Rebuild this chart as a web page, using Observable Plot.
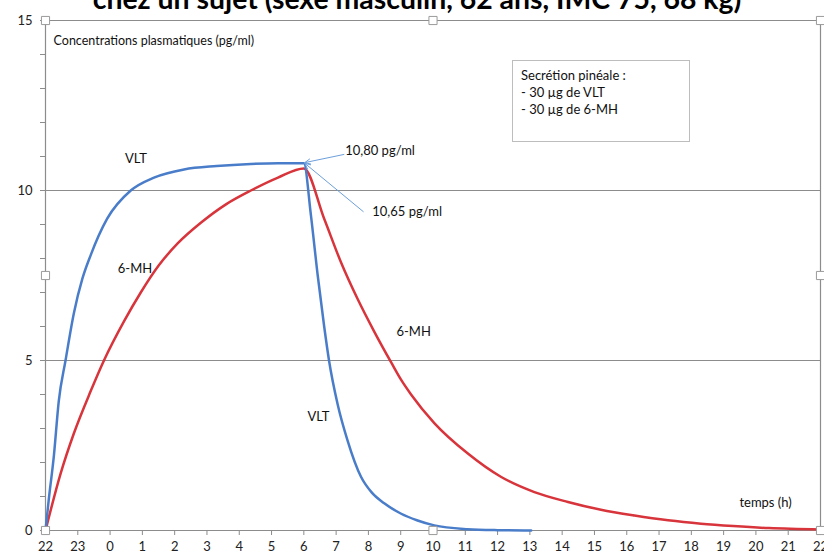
<!DOCTYPE html>
<html>
<head>
<meta charset="utf-8">
<script src="https://cdn.jsdelivr.net/npm/d3@7"></script>
<script src="https://cdn.jsdelivr.net/npm/@observablehq/plot@0.6"></script>
<style>
  html, body { margin: 0; padding: 0; background: #fff; }
  #wrap { position: relative; width: 824px; height: 553px; overflow: hidden; font-family: Lato, "Open Sans", sans-serif; }
  #title { position: absolute; left: 0; width: 834px; top: -16.5px; text-align: center; font-weight: 700; font-size: 28.4px; line-height: 28.4px; color: #000; white-space: nowrap; z-index: 2; }
  #legend { position: absolute; left: 512px; top: 60px; width: 168px; height: 74px; border: 1px solid #bdbdbd; padding: 6px 0 0 8px; font-size: 13px; line-height: 17px; color: #111; background: #fff; z-index: 2; }
  #chart { position: absolute; left: 0; top: 0; }
</style>
</head>
<body>
<div id="wrap">
  <div id="title">chez un sujet (sexe masculin, 62 ans, IMC 75, 68 kg)</div>
  <div id="chart"></div>
  <div id="legend">Secrétion pinéale :<br>- 30 µg de VLT<br>- 30 µg de 6-MH</div>
</div>
<script>
// Hours elapsed since 22 h (0..24) and tick labels (clock hours)
const hourTicks = d3.range(0, 25);
const hourLabels = ["22","23","0","1","2","3","4","5","6","7","8","9","10","11","12","13","14","15","16","17","18","19","20","21","22"];
const yTicks = [0, 5, 10, 15];
const yMinorTicks = d3.range(0, 16);

// VLT plasma concentration (pg/ml)
const vltT = [0, 0.1, 0.26, 0.41, 0.62, 0.88, 1.14, 1.4, 1.91, 2.64, 3.36, 4.29, 5.3, 6.36, 7.2, 8.0, 8.22, 8.43, 8.63, 8.78, 9.05, 9.35, 9.77, 10.1, 10.49, 11.0, 11.5, 12.04, 13.07, 14.0, 15.04];
const vltV = [0, 0.9, 2.2, 3.8, 5.0, 6.4, 7.4, 8.1, 9.17, 10.0, 10.38, 10.62, 10.72, 10.78, 10.8, 10.8, 9.27, 7.5, 6.0, 5.0, 3.7, 2.66, 1.58, 1.12, 0.8, 0.5, 0.3, 0.15, 0.04, 0.01, 0];

// 6-MH plasma concentration (pg/ml)
const mhT = [0, 0.47, 0.88, 1.4, 1.81, 2.43, 2.95, 3.51, 4.1, 4.81, 5.6, 6.36, 7.2, 8.0, 8.63, 9.15, 9.67, 10.18, 10.7, 11.0, 11.32, 12.04, 13.07, 14.1, 15.14, 16.18, 17.2, 18.24, 19.28, 20.3, 21.3, 22.4, 24];
const mhV = [0, 1.68, 2.86, 4.1, 5.0, 6.15, 7.0, 7.8, 8.45, 9.05, 9.6, 10.0, 10.38, 10.65, 9.17, 7.89, 6.8, 5.85, 4.95, 4.45, 4.0, 3.16, 2.27, 1.58, 1.13, 0.84, 0.61, 0.44, 0.30, 0.2, 0.13, 0.07, 0.03];

// Annotations (data coordinates)
const curveLabels = [
  {t: 2.8, v: 10.94, text: "VLT"},
  {t: 2.77, v: 7.7, text: "6-MH"},
  {t: 11.4, v: 5.83, text: "6-MH"},
  {t: 8.45, v: 3.33, text: "VLT"},
  {t: 22.3, v: 0.81, text: "temps (h)"}
];
const valueLabels = [
  {t: 9.28, v: 11.16, text: "10,80 pg/ml"},
  {t: 10.12, v: 9.38, text: "10,65 pg/ml"}
];
const arrows = [
  {t1: 9.24, v1: 11.06, t2: 8.03, v2: 10.82},
  {t1: 9.84, v1: 9.38, t2: 8.03, v2: 10.8}
];
const axisTitle = [{t: 0.25, v: 14.41, text: "Concentrations plasmatiques (pg/ml)"}];
const handles = [
  {t: 0, v: 0}, {t: 12, v: 0}, {t: 24, v: 0},
  {t: 0, v: 7.5}, {t: 24, v: 7.5},
  {t: 0, v: 15}, {t: 12, v: 15}, {t: 24, v: 15}
];

const vlt = vltT.map((t, i) => ({t, v: vltV[i]}));
const mh = mhT.map((t, i) => ({t, v: mhV[i]}));

const grid = "#8c8c8c";
const chart = Plot.plot({
  width: 824,
  height: 553,
  marginLeft: 45,
  marginRight: 4,
  marginTop: 20,
  marginBottom: 23,
  style: {fontFamily: "Lato, 'Open Sans', sans-serif", background: "transparent", overflow: "visible"},
  x: {domain: [0, 24], axis: null},
  y: {domain: [0, 15], axis: null},
  marks: [
    Plot.ruleY([5, 10, 15], {stroke: grid, strokeWidth: 1.2}),
    Plot.ruleY([0], {stroke: grid, strokeWidth: 1.2}),
    Plot.ruleX([0, 24], {stroke: grid, strokeWidth: 1.2}),
    Plot.axisY({ticks: yMinorTicks, tickSize: 5, tickFormat: () => "", stroke: grid}),
    Plot.axisY({ticks: yTicks, tickSize: 0, tickPadding: 13, fontSize: 13, fill: "#222"}),
    Plot.axisX({ticks: hourTicks, tickSize: 5, tickPadding: 6, fontSize: 13, fill: "#222", stroke: grid, tickFormat: i => hourLabels[i]}),
    Plot.line(mh, {x: "t", y: "v", stroke: "#d8343b", strokeWidth: 2.5, curve: "monotone-x"}),
    Plot.line(vlt, {x: "t", y: "v", stroke: "#4a7dc9", strokeWidth: 2.5, curve: "monotone-x"}),
    Plot.arrow(arrows, {x1: "t1", y1: "v1", x2: "t2", y2: "v2", stroke: "#6d9fdc", strokeWidth: 1, headLength: 9, headAngle: 50}),
    Plot.text(curveLabels, {x: "t", y: "v", text: "text", fontSize: 13, fill: "#111"}),
    Plot.text(valueLabels, {x: "t", y: "v", text: "text", fontSize: 13, fill: "#111", textAnchor: "start"}),
    Plot.text(axisTitle, {x: "t", y: "v", text: "text", fontSize: 12.5, fill: "#111", textAnchor: "start"}),
    Plot.dot(handles, {x: "t", y: "v", symbol: "square", r: 4.6, fill: "white", stroke: "#9a9a9a", strokeWidth: 1})
  ]
});
document.getElementById("chart").appendChild(chart);
</script>
</body>
</html>
